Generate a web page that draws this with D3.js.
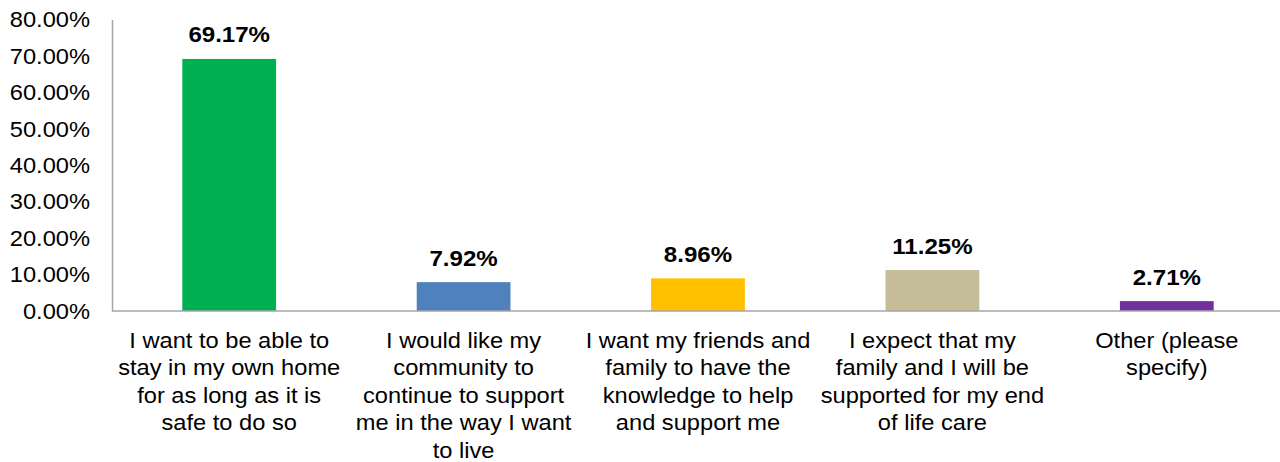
<!DOCTYPE html>
<html>
<head>
<meta charset="utf-8">
<script src="https://cdn.jsdelivr.net/npm/d3@7"></script>
<style>
  html, body { margin: 0; padding: 0; background: #fff; }
  svg { display: block; font-family: "Liberation Sans", Arial, sans-serif; }
</style>
</head>
<body>
<svg id="chart" width="1280" height="462"></svg>
<script>
// Survey responses: share of respondents per statement
const categories = [
  ["I want to be able to", "stay in my own home", "for as long as it is", "safe to do so"],
  ["I would like my", "community to", "continue to support", "me in the way I want", "to live"],
  ["I want my friends and", "family to have the", "knowledge to help", "and support me"],
  ["I expect that my", "family and I will be", "supported for my end", "of life care"],
  ["Other (please", "specify)"]
];
const values = [69.17, 7.92, 8.96, 11.25, 2.71];
const barColors = ["#00B050", "#4F81BD", "#FFC000", "#C4BD97", "#7030A0"];
const yTicks = [0, 10, 20, 30, 40, 50, 60, 70, 80];

const svg = d3.select("#chart");
const margin = { left: 112, top: 19.5, bottom: 311 };
const plotRight = 112 + 5 * 234.4;
const textFont = 21.5, textStretch = 1.1;   // slightly wide glyphs
const valueFont = 22.5, valueStretch = 1.07;

const x = d3.scaleBand()
  .domain(d3.range(values.length))
  .range([margin.left, plotRight])
  .paddingInner(0.6)
  .paddingOuter(0.3);

const y = d3.scaleLinear().domain([0, 80]).range([margin.bottom, margin.top]);

// Y axis: vertical rule with tick labels, no tick marks
const yAxis = svg.append("g")
  .attr("transform", `translate(${margin.left},0)`)
  .call(d3.axisLeft(y).tickValues(yTicks).tickSize(0).tickFormat(""));
yAxis.select(".domain").attr("stroke", "#A6A6A6").attr("stroke-width", 1.5);

svg.append("g").selectAll("g")
  .data(yTicks)
  .join("g")
  .attr("transform", d => `translate(90,${y(d)}) scale(${textStretch},1)`)
  .append("text")
  .attr("text-anchor", "end")
  .attr("dy", "0.36em")
  .attr("font-size", textFont)
  .attr("fill", "#000")
  .text(d => d.toFixed(2) + "%");

// Bars
svg.append("g").selectAll("rect")
  .data(values)
  .join("rect")
  .attr("x", (d, i) => x(i))
  .attr("width", x.bandwidth())
  .attr("y", d => y(d))
  .attr("height", d => y(0) - y(d))
  .attr("fill", (d, i) => barColors[i]);

// X axis baseline
svg.append("line")
  .attr("x1", margin.left).attr("x2", 1280)
  .attr("y1", y(0)).attr("y2", y(0))
  .attr("stroke", "#A6A6A6").attr("stroke-width", 1.5);

// Value labels above bars
svg.append("g").selectAll("g")
  .data(values)
  .join("g")
  .attr("transform", (d, i) => `translate(${x(i) + x.bandwidth() / 2},${y(d) - 16.5}) scale(${valueStretch},1)`)
  .append("text")
  .attr("text-anchor", "middle")
  .attr("font-size", valueFont)
  .attr("font-weight", "bold")
  .attr("fill", "#000")
  .text(d => d.toFixed(2) + "%");

// Wrapped category labels
svg.append("g").selectAll("g")
  .data(categories)
  .join("g")
  .attr("transform", (d, i) => `translate(${x(i) + x.bandwidth() / 2},0) scale(${textStretch},1)`)
  .append("text")
  .attr("text-anchor", "middle")
  .attr("font-size", textFont)
  .attr("fill", "#000")
  .selectAll("tspan")
  .data(d => d)
  .join("tspan")
  .attr("x", 0)
  .attr("y", (d, j) => 347.7 + j * 27.6)
  .text(d => d);
</script>
</body>
</html>
